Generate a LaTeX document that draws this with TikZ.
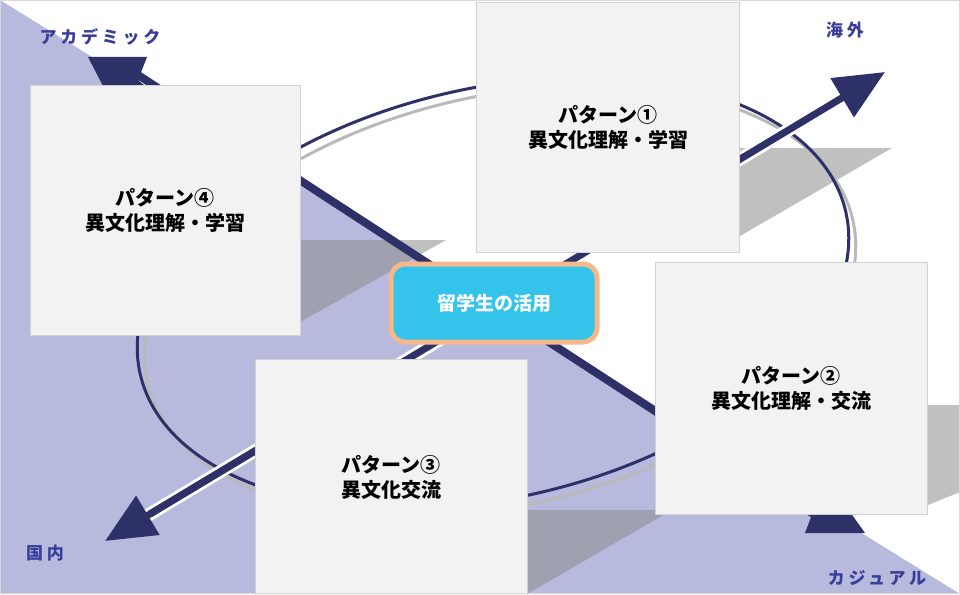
\documentclass[tikz,border=0pt]{standalone}
\usepackage{fontspec}
\setmainfont{Noto Sans CJK JP}
\usetikzlibrary{arrows.meta}

\definecolor{navy}{HTML}{2E3168}
\definecolor{lavender}{HTML}{B7B9DD}
\definecolor{labelblue}{HTML}{3A3E9A}
\definecolor{cyanfill}{HTML}{33C3EB}
\definecolor{peach}{HTML}{F5B88A}

\tikzset{
  pattern box/.style={draw=gray!35, fill=gray!10, minimum width=#1,
    inner sep=0pt, align=center, font=\bfseries\fontsize{20}{25}\selectfont},
  shadow/.style={fill=black!45, fill opacity=0.55},
  axis label/.style={text=labelblue,
    font=\bfseries\fontsize{17}{20}\selectfont\addfontfeatures{LetterSpace=22}}
}

\begin{document}
\begin{tikzpicture}[x=1pt,y=-1pt]

\def\w{960}
\def\h{594}

\useasboundingbox (0,0) rectangle (\w,\h);
\fill[lavender] (0,0) -- (0,\h) -- (\w,\h) -- cycle;

% shadows
\fill[shadow] (740,148) -- (892,148) -- (740,236) -- cycle;
\fill[shadow] (300,240) -- (446,240) -- (300,322) -- cycle;
\fill[shadow] (928,405) -- (960,405) -- (960,492) -- (928,505) -- cycle;
\fill[shadow] (527,510) -- (672,510) -- (527,594) -- cycle;

% ellipse
\draw[gray!55, line width=3pt, rotate around={13:(500,301)}] (500,301) ellipse (362 and 205);
\draw[navy, line width=3pt, rotate around={13:(493,293)}] (493,293) ellipse (362 and 205);

% axes
\draw[navy, line width=8pt] (118,62) -- (835,528);
\fill[navy] (88,57) -- (147,57) -- (138,80) -- (145,86) -- (103,86) -- cycle;
\fill[navy] (813,512) -- (850,512) -- (865,533) -- (805,533) -- cycle;
\draw[white, line width=13pt, line cap=round] (140,520) -- (850,93);
\draw[navy, line width=7pt, -{Triangle[length=50pt,width=44pt]}] (150,514) -- (885,72);
\draw[navy, line width=7pt, -{Triangle[length=50pt,width=44pt]}] (300,424) -- (105,541);

% patterns
\node[pattern box=263pt, minimum height=250pt] (p1) at (608,127) {パターン①\\異文化理解・学習};
\node[pattern box=272pt, minimum height=252pt] (p2) at (791,388) {パターン②\\異文化理解・交流};
\node[pattern box=272pt, minimum height=236pt] (p3) at (391,477) {パターン③\\異文化交流};
\node[pattern box=270pt, minimum height=250pt] (p4) at (165,210) {パターン④\\異文化理解・学習};

\node[draw=peach, line width=5pt, fill=cyanfill, rounded corners=14pt,
  minimum width=206pt, minimum height=78pt, text=white,
  font=\bfseries\fontsize{19}{23}\selectfont] (hub) at (494,303) {留学生の活用};

% labels
\node[axis label] (aca) at (100,37) {アカデミック};
\node[axis label] (abroad) at (845,30) {海外};
\node[axis label] (home) at (45,553) {国内};
\node[axis label] (cas) at (877,578) {カジュアル};

\draw[gray!30] (0.5,0.5) rectangle (959.5,593.5);
\end{tikzpicture}
\end{document}
